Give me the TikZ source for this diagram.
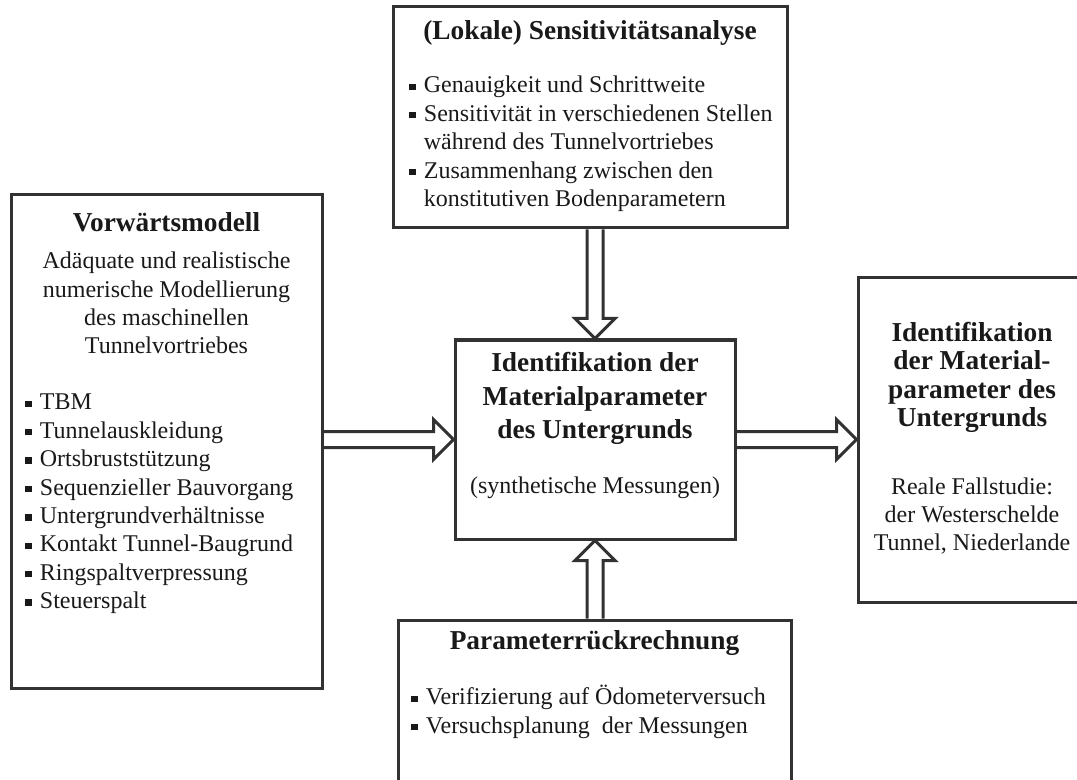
\documentclass[tikz,border=0pt]{standalone}
\usepackage{fontspec}
\setmainfont{Liberation Serif}
\usetikzlibrary{calc,fit}

\definecolor{linegray}{RGB}{50,50,50}
\definecolor{textgray}{RGB}{25,25,25}
\newcommand{\blt}{\rule[0.12em]{0.27em}{0.27em}\hspace{0.34em}}
\newcommand{\bodysize}{\fontsize{18}{21.3}\selectfont}
\newcommand{\titlesize}{\fontsize{20.5}{25}\selectfont\bfseries}

\begin{document}
\begin{tikzpicture}[x=0.75pt,y=-0.75pt,
  box/.style={draw=linegray,line width=2.25pt,inner sep=0pt},
  harrow/.style={draw=linegray,line width=2.25pt,line join=miter},
  ttl/.style={inner sep=0pt,text=textgray,font=\titlesize,align=center},
  txt/.style={inner sep=0pt,text=textgray,font=\bodysize,align=center},
  lst/.style={txt,align=left,anchor=west}]
  \clip (0,0) rectangle (1077,780);

  % Kaesten
  \node[box,fit={(393,7) (787,228)}] (sens) {};
  \node[box,fit={(11,195) (322,688)}] (vm) {};
  \node[box,fit={(455,340) (735,539)}] (ident) {};
  \node[box,fit={(858,278) (1086,602)}] (res) {};
  \node[box,fit={(398,620) (791,800)}] (back) {};

  % Sensitivitaetsanalyse
  \node[ttl] (sensT) at (590,33) {(Lokale) Sensitivitätsanalyse};
  \node[lst] (sensL) at (409,144) {\blt Genauigkeit und Schrittweite\\
    \blt Sensitivität in verschiedenen Stellen\\
    \hphantom{\blt}während des Tunnelvortriebes\\
    \blt Zusammenhang zwischen den\\
    \hphantom{\blt}konstitutiven Bodenparametern};

  % Vorwaertsmodell
  \node[ttl] (vmT) at (166.5,222) {Vorwärtsmodell};
  \node[txt] (vmD) at (166.5,303) {Adäquate und realistische\\
    numerische Modellierung\\ des maschinellen\\ Tunnelvortriebes};
  \node[lst] (vmL) at (25,504) {\blt TBM\\ \blt Tunnelauskleidung\\
    \blt Ortsbruststützung\\ \blt Sequenzieller Bauvorgang\\
    \blt Untergrundverhältnisse\\ \blt Kontakt Tunnel-Baugrund\\
    \blt Ringspaltverpressung\\ \blt Steuerspalt};

  % Identifikation (synthetisch)
  \node[ttl] (identT) at (595,398.5) {Identifikation der\\
    Materialparameter\\ des Untergrunds};
  \node[txt] (identD) at (595,488) {(synthetische Messungen)};

  % Identifikation (real)
  \node[ttl,font=\fontsize{20.5}{21.2}\selectfont\bfseries] (resT) at (972,377.5)
    {Identifikation\\ der Material-\\ parameter des\\ Untergrunds};
  \node[txt] (resD) at (972,516) {Reale Fallstudie:\\ der Westerschelde\\
    Tunnel, Niederlande};

  % Parameterrueckrechnung
  \node[ttl] (backT) at (594.5,643) {Parameterrückrechnung};
  \node[lst] (backL) at (411,712) {\blt Verifizierung auf Ödometerversuch\\
    \blt Versuchsplanung\ \ der Messungen};

  % Pfeile
  \coordinate (la) at (vm.east |- ident.west);
  \coordinate (ra) at (res.west |- ident.east);
  \coordinate (ta) at (ident.north |- sens.south);
  \coordinate (ba) at (ident.south |- back.north);

  \draw[harrow] ($(la)+(0,-8)$) -- ($(ident.west)+(-20,-8)$)
    -- ($(ident.west)+(-20,-20)$) -- (ident.west) -- ($(ident.west)+(-20,20)$)
    -- ($(ident.west)+(-20,8)$) -- ($(la)+(0,8)$);
  \draw[harrow] ($(ident.east)+(0,-8)$) -- ($(ra)+(-20,-8)$)
    -- ($(ra)+(-20,-20)$) -- (ra) -- ($(ra)+(-20,20)$)
    -- ($(ra)+(-20,8)$) -- ($(ident.east)+(0,8)$);
  \draw[harrow] ($(ta)+(-8,0)$) -- ($(ident.north)+(-8,-20)$)
    -- ($(ident.north)+(-20,-20)$) -- (ident.north) -- ($(ident.north)+(20,-20)$)
    -- ($(ident.north)+(8,-20)$) -- ($(ta)+(8,0)$);
  \draw[harrow] ($(ba)+(-8,0)$) -- ($(ident.south)+(-8,20)$)
    -- ($(ident.south)+(-20,20)$) -- (ident.south) -- ($(ident.south)+(20,20)$)
    -- ($(ident.south)+(8,20)$) -- ($(ba)+(8,0)$);
\end{tikzpicture}
\end{document}
